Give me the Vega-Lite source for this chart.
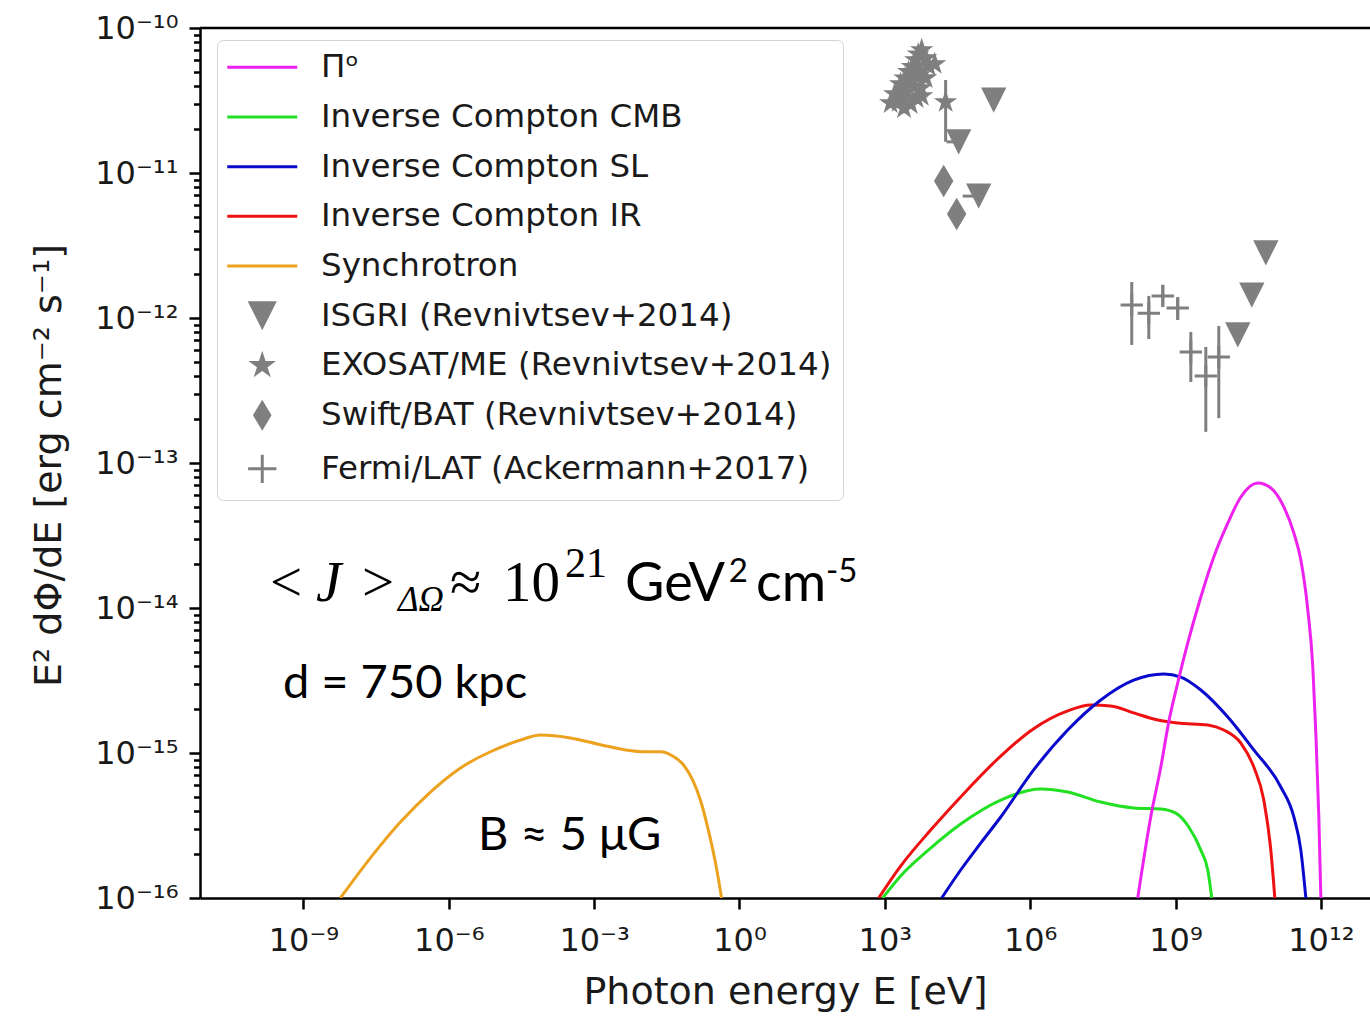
{
  "$schema": "https://vega.github.io/schema/vega-lite/v6.json",
  "width": 1170,
  "height": 870,
  "autosize": "none",
  "padding": {"left": 200, "top": 28, "right": 0, "bottom": 118},
  "background": "white",
  "config": {
    "view": {"stroke": null},
    "axis": {
      "grid": false,
      "domainColor": "black",
      "domainWidth": 2.5,
      "tickColor": "black",
      "tickWidth": 2.5,
      "labelFont": "DejaVu Sans",
      "labelFontSize": 32,
      "labelColor": "#1a1a1a",
      "titleFont": "DejaVu Sans",
      "titleFontSize": 38,
      "titleFontWeight": "normal",
      "titleColor": "#1a1a1a"
    },
    "text": {"color": "black"}
  },
  "datasets": {
    "curves": [
      {"series": "Synchrotron", "E": 5.81e-9, "F": 1e-16},
      {"series": "Synchrotron", "E": 2.42e-8, "F": 1.89e-16},
      {"series": "Synchrotron", "E": 1.007e-7, "F": 3.34e-16},
      {"series": "Synchrotron", "E": 4.19e-7, "F": 5.38e-16},
      {"series": "Synchrotron", "E": 1.75e-6, "F": 7.89e-16},
      {"series": "Synchrotron", "E": 7.26e-6, "F": 1.02e-15},
      {"series": "Synchrotron", "E": 3.03e-5, "F": 1.23e-15},
      {"series": "Synchrotron", "E": 7.83e-5, "F": 1.33e-15},
      {"series": "Synchrotron", "E": 3.26e-4, "F": 1.27e-15},
      {"series": "Synchrotron", "E": 1.36e-3, "F": 1.14e-15},
      {"series": "Synchrotron", "E": 4.46e-3, "F": 1.05e-15},
      {"series": "Synchrotron", "E": 1.15e-2, "F": 1.02e-15},
      {"series": "Synchrotron", "E": 2.36e-2, "F": 1.02e-15},
      {"series": "Synchrotron", "E": 4.17e-2, "F": 9.53e-16},
      {"series": "Synchrotron", "E": 7.02e-2, "F": 8.26e-16},
      {"series": "Synchrotron", "E": 0.108, "F": 6.52e-16},
      {"series": "Synchrotron", "E": 0.156, "F": 4.74e-16},
      {"series": "Synchrotron", "E": 0.228, "F": 2.94e-16},
      {"series": "Synchrotron", "E": 0.318, "F": 1.77e-16},
      {"series": "Synchrotron", "E": 0.428, "F": 1e-16},

      {"series": "Inverse Compton CMB", "E": 902, "F": 1e-16},
      {"series": "Inverse Compton CMB", "E": 2120, "F": 1.42e-16},
      {"series": "Inverse Compton CMB", "E": 8830, "F": 2.21e-16},
      {"series": "Inverse Compton CMB", "E": 36800, "F": 3.24e-16},
      {"series": "Inverse Compton CMB", "E": 2.47e5, "F": 4.74e-16},
      {"series": "Inverse Compton CMB", "E": 1.65e6, "F": 5.65e-16},
      {"series": "Inverse Compton CMB", "E": 5.96e6, "F": 5.38e-16},
      {"series": "Inverse Compton CMB", "E": 2.86e7, "F": 4.59e-16},
      {"series": "Inverse Compton CMB", "E": 1.37e8, "F": 4.18e-16},
      {"series": "Inverse Compton CMB", "E": 4.97e8, "F": 4.11e-16},
      {"series": "Inverse Compton CMB", "E": 1.01e9, "F": 3.85e-16},
      {"series": "Inverse Compton CMB", "E": 1.88e9, "F": 3.09e-16},
      {"series": "Inverse Compton CMB", "E": 3.33e9, "F": 2.14e-16},
      {"series": "Inverse Compton CMB", "E": 4.63e9, "F": 1.56e-16},
      {"series": "Inverse Compton CMB", "E": 5.61e9, "F": 1e-16},

      {"series": "Inverse Compton IR", "E": 746, "F": 1e-16},
      {"series": "Inverse Compton IR", "E": 2120, "F": 1.66e-16},
      {"series": "Inverse Compton IR", "E": 8830, "F": 2.94e-16},
      {"series": "Inverse Compton IR", "E": 36800, "F": 4.98e-16},
      {"series": "Inverse Compton IR", "E": 2.47e5, "F": 9.53e-16},
      {"series": "Inverse Compton IR", "E": 1.18e6, "F": 1.47e-15},
      {"series": "Inverse Compton IR", "E": 5.96e6, "F": 1.95e-15},
      {"series": "Inverse Compton IR", "E": 1.78e7, "F": 2.14e-15},
      {"series": "Inverse Compton IR", "E": 4.6e7, "F": 2.11e-15},
      {"series": "Inverse Compton IR", "E": 1.37e8, "F": 1.89e-15},
      {"series": "Inverse Compton IR", "E": 4.31e8, "F": 1.69e-15},
      {"series": "Inverse Compton IR", "E": 1.11e9, "F": 1.61e-15},
      {"series": "Inverse Compton IR", "E": 4.63e9, "F": 1.56e-15},
      {"series": "Inverse Compton IR", "E": 9.91e9, "F": 1.44e-15},
      {"series": "Inverse Compton IR", "E": 2.23e10, "F": 1.17e-15},
      {"series": "Inverse Compton IR", "E": 4.13e10, "F": 8.0e-16},
      {"series": "Inverse Compton IR", "E": 6.64e10, "F": 4.74e-16},
      {"series": "Inverse Compton IR", "E": 9.27e10, "F": 2.14e-16},
      {"series": "Inverse Compton IR", "E": 1.122e11, "F": 1e-16},

      {"series": "Inverse Compton SL", "E": 14900, "F": 1e-16},
      {"series": "Inverse Compton SL", "E": 36800, "F": 1.56e-16},
      {"series": "Inverse Compton SL", "E": 95300, "F": 2.39e-16},
      {"series": "Inverse Compton SL", "E": 2.47e5, "F": 3.62e-16},
      {"series": "Inverse Compton SL", "E": 1.18e6, "F": 7.64e-16},
      {"series": "Inverse Compton SL", "E": 5.96e6, "F": 1.44e-15},
      {"series": "Inverse Compton SL", "E": 2.86e7, "F": 2.32e-15},
      {"series": "Inverse Compton SL", "E": 1.37e8, "F": 3.18e-15},
      {"series": "Inverse Compton SL", "E": 5.73e8, "F": 3.51e-15},
      {"series": "Inverse Compton SL", "E": 1.29e9, "F": 3.34e-15},
      {"series": "Inverse Compton SL", "E": 3.33e9, "F": 2.72e-15},
      {"series": "Inverse Compton SL", "E": 1.2e10, "F": 1.77e-15},
      {"series": "Inverse Compton SL", "E": 4.13e10, "F": 1.05e-15},
      {"series": "Inverse Compton SL", "E": 1.49e11, "F": 5.83e-16},
      {"series": "Inverse Compton SL", "E": 2.77e11, "F": 3.62e-16},
      {"series": "Inverse Compton SL", "E": 3.86e11, "F": 2.14e-16},
      {"series": "Inverse Compton SL", "E": 4.9e11, "F": 1e-16},

      {"series": "Πᵒ", "E": 1.66e8, "F": 1e-16},
      {"series": "Πᵒ", "E": 3.08e8, "F": 3.62e-16},
      {"series": "Πᵒ", "E": 4.97e8, "F": 8.0e-16},
      {"series": "Πᵒ", "E": 7.26e8, "F": 1.64e-15},
      {"series": "Πᵒ", "E": 1.11e9, "F": 3.04e-15},
      {"series": "Πᵒ", "E": 1.79e9, "F": 5.74e-15},
      {"series": "Πᵒ", "E": 3.33e9, "F": 1.19e-14},
      {"series": "Πᵒ", "E": 6.17e9, "F": 2.25e-14},
      {"series": "Πᵒ", "E": 1.2e10, "F": 3.85e-14},
      {"series": "Πᵒ", "E": 2.23e10, "F": 5.83e-14},
      {"series": "Πᵒ", "E": 4.99e10, "F": 7.28e-14},
      {"series": "Πᵒ", "E": 9.27e10, "F": 6.73e-14},
      {"series": "Πᵒ", "E": 1.72e11, "F": 4.98e-14},
      {"series": "Πᵒ", "E": 2.77e11, "F": 3.29e-14},
      {"series": "Πᵒ", "E": 3.86e11, "F": 2.14e-14},
      {"series": "Πᵒ", "E": 5.38e11, "F": 9.68e-15},
      {"series": "Πᵒ", "E": 6.82e11, "F": 3.92e-15},
      {"series": "Πᵒ", "E": 7.87e11, "F": 1.37e-15},
      {"series": "Πᵒ", "E": 9.08e11, "F": 3.62e-16},
      {"series": "Πᵒ", "E": 1.0e12, "F": 1e-16}
    ],
    "obs": [
      {"series": "ISGRI (Revnivtsev+2014)", "E": 1.77e5, "F": 3.18e-11},
      {"series": "ISGRI (Revnivtsev+2014)", "E": 33500, "F": 1.64e-11, "Elo": 18900},
      {"series": "ISGRI (Revnivtsev+2014)", "E": 86700, "F": 6.93e-12, "Elo": 40500},

      {"series": "EXOSAT/ME (Revnivtsev+2014)", "E": 5770, "F": 7.05e-11},
      {"series": "EXOSAT/ME (Revnivtsev+2014)", "E": 4900, "F": 6.6e-11},
      {"series": "EXOSAT/ME (Revnivtsev+2014)", "E": 6970, "F": 6.21e-11},
      {"series": "EXOSAT/ME (Revnivtsev+2014)", "E": 4340, "F": 6.01e-11},
      {"series": "EXOSAT/ME (Revnivtsev+2014)", "E": 8040, "F": 5.47e-11},
      {"series": "EXOSAT/ME (Revnivtsev+2014)", "E": 10700, "F": 5.65e-11},
      {"series": "EXOSAT/ME (Revnivtsev+2014)", "E": 5000, "F": 5.13e-11},
      {"series": "EXOSAT/ME (Revnivtsev+2014)", "E": 3700, "F": 5.4e-11},
      {"series": "EXOSAT/ME (Revnivtsev+2014)", "E": 3100, "F": 4.98e-11},
      {"series": "EXOSAT/ME (Revnivtsev+2014)", "E": 6970, "F": 4.52e-11},
      {"series": "EXOSAT/ME (Revnivtsev+2014)", "E": 4200, "F": 4.7e-11},
      {"series": "EXOSAT/ME (Revnivtsev+2014)", "E": 3760, "F": 4.38e-11},
      {"series": "EXOSAT/ME (Revnivtsev+2014)", "E": 2600, "F": 4.5e-11},
      {"series": "EXOSAT/ME (Revnivtsev+2014)", "E": 2120, "F": 4.11e-11},
      {"series": "EXOSAT/ME (Revnivtsev+2014)", "E": 5500, "F": 3.85e-11},
      {"series": "EXOSAT/ME (Revnivtsev+2014)", "E": 4000, "F": 3.95e-11},
      {"series": "EXOSAT/ME (Revnivtsev+2014)", "E": 2820, "F": 3.62e-11},
      {"series": "EXOSAT/ME (Revnivtsev+2014)", "E": 1600, "F": 3.51e-11},
      {"series": "EXOSAT/ME (Revnivtsev+2014)", "E": 5770, "F": 3.4e-11},
      {"series": "EXOSAT/ME (Revnivtsev+2014)", "E": 4540, "F": 3.29e-11},
      {"series": "EXOSAT/ME (Revnivtsev+2014)", "E": 2350, "F": 3.3e-11},
      {"series": "EXOSAT/ME (Revnivtsev+2014)", "E": 1930, "F": 3.09e-11},
      {"series": "EXOSAT/ME (Revnivtsev+2014)", "E": 1320, "F": 3.04e-11},
      {"series": "EXOSAT/ME (Revnivtsev+2014)", "E": 3420, "F": 2.99e-11},
      {"series": "EXOSAT/ME (Revnivtsev+2014)", "E": 2500, "F": 2.8e-11},
      {"series": "EXOSAT/ME (Revnivtsev+2014)", "E": 18000, "F": 3.09e-11, "Flo": 1.64e-11, "Fhi": 4.38e-11},

      {"series": "Swift/BAT (Revnivtsev+2014)", "E": 16400, "F": 8.81e-12},
      {"series": "Swift/BAT (Revnivtsev+2014)", "E": 30400, "F": 5.21e-12},

      {"series": "Fermi/LAT (Ackermann+2017)", "E": 1.25e8, "F": 1.23e-12, "Flo": 6.52e-13, "Fhi": 1.77e-12},
      {"series": "Fermi/LAT (Ackermann+2017)", "E": 2.81e8, "F": 1.08e-12, "Flo": 7.16e-13, "Fhi": 1.42e-12},
      {"series": "Fermi/LAT (Ackermann+2017)", "E": 5.46e8, "F": 1.42e-12, "Flo": 1.21e-12, "Fhi": 1.69e-12},
      {"series": "Fermi/LAT (Ackermann+2017)", "E": 1.11e9, "F": 1.17e-12, "Flo": 9.68e-13, "Fhi": 1.37e-12},
      {"series": "Fermi/LAT (Ackermann+2017)", "E": 2.07e9, "F": 5.83e-13, "Flo": 3.62e-13, "Fhi": 8.0e-13},
      {"series": "Fermi/LAT (Ackermann+2017)", "E": 4.22e9, "F": 3.98e-13, "Flo": 1.64e-13, "Fhi": 6.31e-13},
      {"series": "Fermi/LAT (Ackermann+2017)", "E": 7.82e9, "F": 5.38e-13, "Flo": 2.04e-13, "Fhi": 8.81e-13},
      {"series": "Fermi/LAT (Ackermann+2017)", "E": 1.93e10, "F": 7.64e-13, "ul": true},
      {"series": "Fermi/LAT (Ackermann+2017)", "E": 3.76e10, "F": 1.44e-12, "ul": true},
      {"series": "Fermi/LAT (Ackermann+2017)", "E": 7.31e10, "F": 2.81e-12, "ul": true}
    ]
  },
  "encoding": {
    "x": {
      "field": "E", "type": "quantitative",
      "scale": {"type": "log", "domain": [7.345e-12, 1.033e13], "nice": false},
      "axis": {
        "title": "Photon energy E [eV]",
        "values": [1e-9, 1e-6, 1e-3, 1, 1e3, 1e6, 1e9, 1e12],
        "labelExpr": "'10' + replace(replace(replace(replace(replace(replace(replace(replace(replace(replace(replace('' + round(log(datum.value) / LN10), '-', '⁻'), regexp('0', 'g'), '⁰'), regexp('1', 'g'), '¹'), regexp('2', 'g'), '²'), regexp('3', 'g'), '³'), regexp('4', 'g'), '⁴'), regexp('5', 'g'), '⁵'), regexp('6', 'g'), '⁶'), regexp('7', 'g'), '⁷'), regexp('8', 'g'), '⁸'), regexp('9', 'g'), '⁹')",
        "labelFlush": false,
        "labelOverlap": false,
        "tickSize": 11,
        "labelPadding": 16,
        "titleY": 105,
        "titleBaseline": "alphabetic"
      }
    },
    "y": {
      "field": "F", "type": "quantitative",
      "scale": {"type": "log", "domain": [1e-16, 1e-10], "nice": false},
      "axis": {
        "title": "E² dΦ/dE [erg cm⁻² s⁻¹]",
        "values": [1e-16, 2e-16, 3e-16, 4e-16, 5e-16, 6e-16, 7e-16, 8e-16, 9e-16,
                   1e-15, 2e-15, 3e-15, 4e-15, 5e-15, 6e-15, 7e-15, 8e-15, 9e-15,
                   1e-14, 2e-14, 3e-14, 4e-14, 5e-14, 6e-14, 7e-14, 8e-14, 9e-14,
                   1e-13, 2e-13, 3e-13, 4e-13, 5e-13, 6e-13, 7e-13, 8e-13, 9e-13,
                   1e-12, 2e-12, 3e-12, 4e-12, 5e-12, 6e-12, 7e-12, 8e-12, 9e-12,
                   1e-11, 2e-11, 3e-11, 4e-11, 5e-11, 6e-11, 7e-11, 8e-11, 9e-11,
                   1e-10],
        "labelExpr": "abs(log(datum.value) / LN10 - round(log(datum.value) / LN10)) < 0.001 ? '10' + replace(replace(replace(replace(replace(replace(replace(replace(replace(replace(replace('' + round(log(datum.value) / LN10), '-', '⁻'), regexp('0', 'g'), '⁰'), regexp('1', 'g'), '¹'), regexp('2', 'g'), '²'), regexp('3', 'g'), '³'), regexp('4', 'g'), '⁴'), regexp('5', 'g'), '⁵'), regexp('6', 'g'), '⁶'), regexp('7', 'g'), '⁷'), regexp('8', 'g'), '⁸'), regexp('9', 'g'), '⁹') : ''",
        "labelOverlap": false,
        "labelFlush": false,
        "tickSize": {"condition": {"test": "abs(log(datum.value) / LN10 - round(log(datum.value) / LN10)) < 0.001", "value": 11}, "value": 6.5},
        "labelPadding": 11,
        "titleAngle": 270,
        "titleX": -140,
        "titleY": 437,
        "titleAlign": "center",
        "titleBaseline": "alphabetic"
      }
    }
  },
  "layer": [
    {
      "data": {"values": [{"E": 7.345e-12, "E2": 1.033e13, "F": 1e-10}]},
      "mark": {"type": "rule", "color": "black", "strokeWidth": 2.5},
      "encoding": {"x2": {"field": "E2"}}
    },
    {
      "data": {"name": "curves"},
      "mark": {"type": "line", "strokeWidth": 3, "interpolate": "monotone", "clip": true},
      "encoding": {
        "color": {
          "field": "series", "type": "nominal",
          "scale": {
            "domain": ["Πᵒ", "Inverse Compton CMB", "Inverse Compton SL", "Inverse Compton IR", "Synchrotron", "ISGRI (Revnivtsev+2014)", "EXOSAT/ME (Revnivtsev+2014)", "Swift/BAT (Revnivtsev+2014)", "Fermi/LAT (Ackermann+2017)"],
            "range": ["#ee22ee", "#22e022", "#0a0acc", "#ee1111", "#eda21f", "#7f7f7f", "#7f7f7f", "#7f7f7f", "#7f7f7f"]
          },
          "legend": {
            "title": null,
            "orient": "none",
            "legendX": 17,
            "legendY": 12,
            "labelFont": "DejaVu Sans",
            "labelFontSize": 32.5,
            "labelColor": "#1a1a1a",
            "labelLimit": 900,
            "symbolType": "stroke",
            "symbolSize": 4900,
            "symbolStrokeWidth": 3,
            "symbolOffset": 18,
            "labelOffset": 42.5,
            "rowPadding": 16.7,
            "padding": 11,
            "fillColor": "white",
            "strokeColor": "#d4d4d4",
            "cornerRadius": 6,
            "encode": {
              "symbols": {
                "update": {
                  "shape": {"signal": "(datum.index < 5 ? 'stroke' : datum.index == 5 ? 'M-1,-1L1,-1L0,1Z' : datum.index == 6 ? 'M0,-1L0.2245,-0.309L0.951,-0.309L0.363,0.118L0.588,0.809L0,0.382L-0.588,0.809L-0.363,0.118L-0.951,-0.309L-0.2245,-0.309Z' : datum.index == 7 ? 'M0,-1L0.6,0L0,1L-0.6,0Z' : 'M-1,0L1,0M0,-1L0,1')"},
                  "size": {"signal": "(datum.index < 5 ? 4900 : datum.index == 7 ? 960 : datum.index == 8 ? 800 : 850)"},
                  "fill": {"signal": "(datum.index < 5 || datum.index == 8 ? 'transparent' : '#7f7f7f')"},
                  "stroke": {"scale": "color", "field": "value"},
                  "strokeWidth": {"signal": "(datum.index < 5 || datum.index == 8 ? 3 : 0)"},
                  "opacity": {"value": 1}
                }
              }
            }
          }
        }
      }
    },
    {
      "data": {"name": "obs"},
      "transform": [{"filter": "isValid(datum.Fhi)"}],
      "mark": {"type": "rule", "color": "#7f7f7f", "strokeWidth": 3},
      "encoding": {"y2": {"field": "Fhi"}}
    },
    {
      "data": {"name": "obs"},
      "transform": [{"filter": "isValid(datum.Flo)"}],
      "mark": {"type": "rule", "color": "#7f7f7f", "strokeWidth": 3},
      "encoding": {"y2": {"field": "Flo"}}
    },
    {
      "data": {"name": "obs"},
      "transform": [{"filter": "isValid(datum.Elo)"}],
      "mark": {"type": "rule", "color": "#7f7f7f", "strokeWidth": 3},
      "encoding": {"x2": {"field": "Elo"}}
    },
    {
      "data": {"name": "obs"},
      "transform": [{"filter": "datum.series === 'ISGRI (Revnivtsev+2014)' || datum.ul === true"}],
      "mark": {"type": "point", "shape": "M-1,-1L1,-1L0,1Z", "size": 640, "filled": true, "opacity": 1, "color": "#7f7f7f", "strokeWidth": 0}
    },
    {
      "data": {"name": "obs"},
      "transform": [{"filter": "datum.series === 'EXOSAT/ME (Revnivtsev+2014)'"}],
      "mark": {"type": "point", "shape": "M0,-1L0.2245,-0.309L0.951,-0.309L0.363,0.118L0.588,0.809L0,0.382L-0.588,0.809L-0.363,0.118L-0.951,-0.309L-0.2245,-0.309Z", "size": 600, "filled": true, "opacity": 1, "color": "#7f7f7f", "strokeWidth": 0}
    },
    {
      "data": {"name": "obs"},
      "transform": [{"filter": "datum.series === 'Swift/BAT (Revnivtsev+2014)'"}],
      "mark": {"type": "point", "shape": "M0,-1L0.6,0L0,1L-0.6,0Z", "size": 1050, "filled": true, "opacity": 1, "color": "#7f7f7f", "strokeWidth": 0}
    },
    {
      "data": {"name": "obs"},
      "transform": [{"filter": "datum.series === 'Fermi/LAT (Ackermann+2017)' && datum.ul !== true"}],
      "mark": {"type": "point", "shape": "M-1,0L1,0M0,-1L0,1", "size": 500, "filled": false, "opacity": 1, "color": "#7f7f7f", "strokeWidth": 3}
    },
    {
      "data": {"values": [
        {"t": "<", "E": 2.05e-10, "F": 1.12e-14},
        {"t": ">", "E": 1.62e-8, "F": 1.12e-14},
        {"t": "≈", "E": 1.06e-6, "F": 1.12e-14},
        {"t": "10", "E": 1.32e-5, "F": 1.12e-14}
      ]},
      "mark": {"type": "text", "font": "Liberation Serif", "fontSize": 57, "align": "left", "baseline": "alphabetic", "color": "black"},
      "encoding": {"text": {"field": "t"}}
    },
    {
      "data": {"values": [{"t": "J", "E": 1.82e-9, "F": 1.12e-14}]},
      "mark": {"type": "text", "font": "Liberation Serif", "fontStyle": "italic", "fontSize": 57, "align": "left", "baseline": "alphabetic", "color": "black"},
      "encoding": {"text": {"field": "t"}}
    },
    {
      "data": {"values": [{"t": "ΔΩ", "E": 8.95e-8, "F": 9.53e-15}]},
      "mark": {"type": "text", "font": "Liberation Serif", "fontStyle": "italic", "fontSize": 35, "align": "left", "baseline": "alphabetic", "color": "black"},
      "encoding": {"text": {"field": "t"}}
    },
    {
      "data": {"values": [{"t": "21", "E": 2.51e-4, "F": 1.64e-14}]},
      "mark": {"type": "text", "font": "Liberation Serif", "fontSize": 42, "align": "left", "baseline": "alphabetic", "color": "black"},
      "encoding": {"text": {"field": "t"}}
    },
    {
      "data": {"values": [
        {"t": "GeV", "E": 4.35e-3, "F": 1.12e-14},
        {"t": "cm", "E": 2.19, "F": 1.12e-14}
      ]},
      "mark": {"type": "text", "font": "Lato", "fontSize": 54, "align": "left", "baseline": "alphabetic", "color": "black"},
      "encoding": {"text": {"field": "t"}}
    },
    {
      "data": {"values": [
        {"t": "2", "E": 0.6, "F": 1.51e-14},
        {"t": "-5", "E": 61.1, "F": 1.51e-14}
      ]},
      "mark": {"type": "text", "font": "Lato", "fontSize": 33, "align": "left", "baseline": "alphabetic", "color": "black"},
      "encoding": {"text": {"field": "t"}}
    },
    {
      "data": {"values": [
        {"t": "d = 750 kpc", "E": 3.79e-10, "F": 2.39e-15},
        {"t": "B ≈ 5 μG", "E": 4.02e-6, "F": 2.14e-16}
      ]},
      "mark": {"type": "text", "font": "Lato", "fontSize": 47, "align": "left", "baseline": "alphabetic", "color": "black"},
      "encoding": {"text": {"field": "t"}}
    }
  ]
}
